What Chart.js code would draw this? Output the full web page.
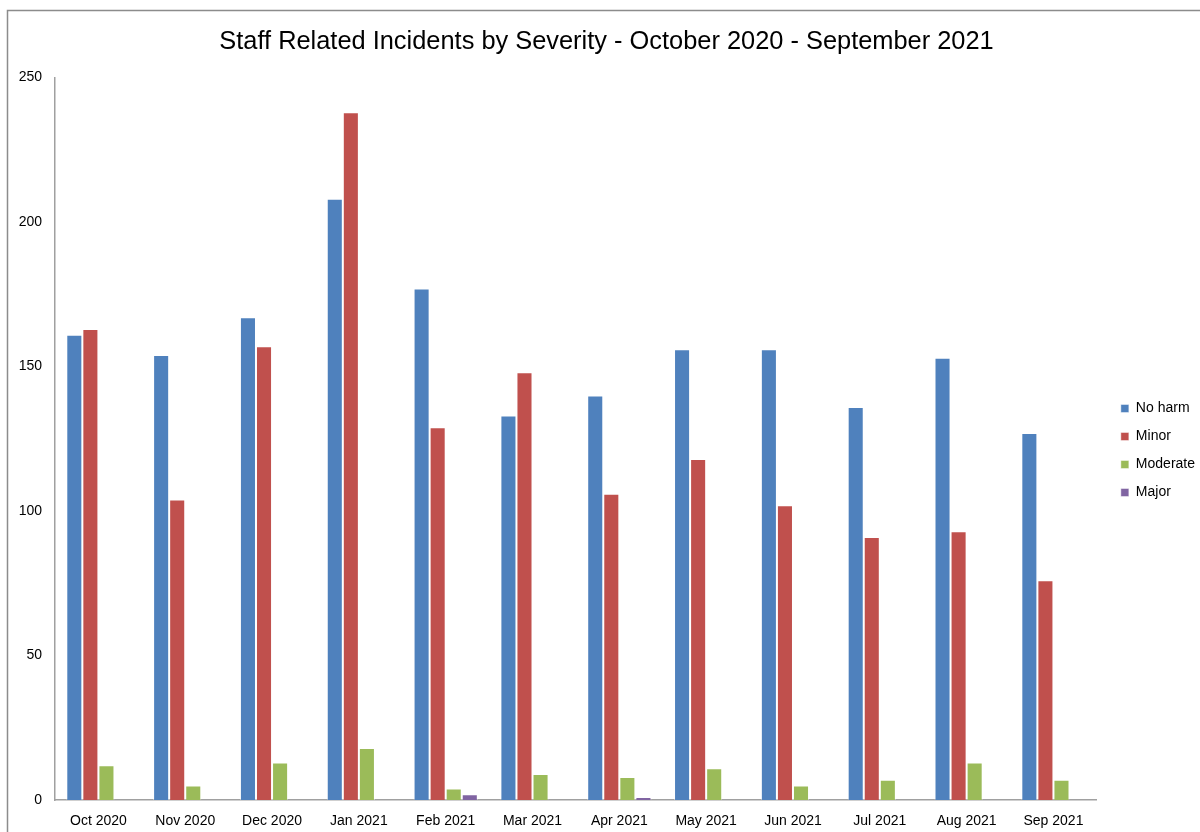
<!DOCTYPE html>
<html>
<head>
<meta charset="utf-8">
<style>
  html, body { margin: 0; padding: 0; background: #ffffff; }
  #wrap { position: relative; width: 1200px; height: 832px; }
</style>
<script src="https://cdn.jsdelivr.net/npm/chart.js@4/dist/chart.umd.min.js"></script>
</head>
<body>
<div id="wrap"><canvas id="chart" width="1200" height="832"></canvas></div>
<script>
// Monthly incident counts by severity
const months = ['Oct 2020', 'Nov 2020', 'Dec 2020', 'Jan 2021', 'Feb 2021', 'Mar 2021',
                'Apr 2021', 'May 2021', 'Jun 2021', 'Jul 2021', 'Aug 2021', 'Sep 2021'];
const noHarm   = [161, 154, 167, 208, 177, 133, 140, 156, 156, 136, 153, 127];
const minor    = [163, 104, 157, 238, 129, 148, 106, 118, 102,  91,  93,  76];
const moderate = [ 12,   5,  13,  18,   4,   9,   8,  11,   5,   7,  13,   7];
const major    = [  0,   0,   0,   0,   2,   0,   1,   0,   0,   0,   0,   0];
const yTicks   = [0, 50, 100, 150, 200, 250];

const FONT = "'Liberation Sans', 'DejaVu Sans', sans-serif";
const PAD_LEFT = 18;

// Thin grey frame around the whole chart
const framePlugin = {
  id: 'frame',
  beforeDraw(chart) {
    const ctx = chart.ctx;
    ctx.save();
    ctx.fillStyle = '#ffffff';
    ctx.fillRect(0, 0, chart.width, chart.height);
    ctx.strokeStyle = '#8c8c8c';
    ctx.lineWidth = 1.5;
    ctx.strokeRect(7.5, 10.5, chart.width + 20, chart.height + 20);
    ctx.restore();
  }
};

// Nudge the legend block a little right and down from the plot
const legendOffset = {
  id: 'legendOffset',
  afterLayout(chart) {
    const lg = chart.legend;
    if (!lg) return;
    lg.left += 10; lg.right += 10;
    lg.top += 21; lg.bottom += 21;
  }
};

const edge = 'rgba(255,255,255,0.45)';

new Chart(document.getElementById('chart'), {
  type: 'bar',
  data: {
    labels: months,
    datasets: [
      { label: 'No harm',  data: noHarm,   backgroundColor: '#4F81BD', borderColor: edge, borderWidth: 1 },
      { label: 'Minor',    data: minor,    backgroundColor: '#C0504D', borderColor: edge, borderWidth: 1 },
      { label: 'Moderate', data: moderate, backgroundColor: '#9BBB59', borderColor: edge, borderWidth: 1 },
      { label: 'Major',    data: major,    backgroundColor: '#8064A2', borderColor: edge, borderWidth: 1 }
    ]
  },
  options: {
    responsive: false,
    animation: false,
    devicePixelRatio: 1,
    layout: { padding: { left: PAD_LEFT, right: 5, top: 27, bottom: 0 } },
    datasets: { bar: { categoryPercentage: 0.74, barPercentage: 1.0 } },
    plugins: {
      title: {
        display: true,
        text: 'Staff Related Incidents by Severity - October 2020 - September 2021',
        color: '#000000',
        font: { family: FONT, size: 25.4, weight: 'normal' },
        padding: { top: 0, bottom: 20 }
      },
      legend: {
        position: 'right',
        labels: {
          color: '#000000',
          font: { family: FONT, size: 14 },
          boxWidth: 8,
          boxHeight: 8,
          padding: 14
        }
      },
      tooltip: { enabled: false }
    },
    scales: {
      x: {
        afterFit(scale) { scale.height = 32; },
        grid: { display: false, drawTicks: false },
        border: { color: '#a0a0a0', width: 1.5 },
        ticks: { color: '#000000', font: { family: FONT, size: 14 }, padding: 13, maxRotation: 0 }
      },
      y: {
        min: 0,
        max: 250,
        afterBuildTicks(scale) { scale.ticks = yTicks.map(v => ({ value: v })); },
        afterFit(scale) { scale.width = 55 - PAD_LEFT; },
        grid: { display: false, drawTicks: false },
        border: { color: '#a0a0a0', width: 1.5 },
        ticks: { color: '#000000', font: { family: FONT, size: 14 }, padding: 13 }
      }
    }
  },
  plugins: [framePlugin, legendOffset]
});
</script>
</body>
</html>
